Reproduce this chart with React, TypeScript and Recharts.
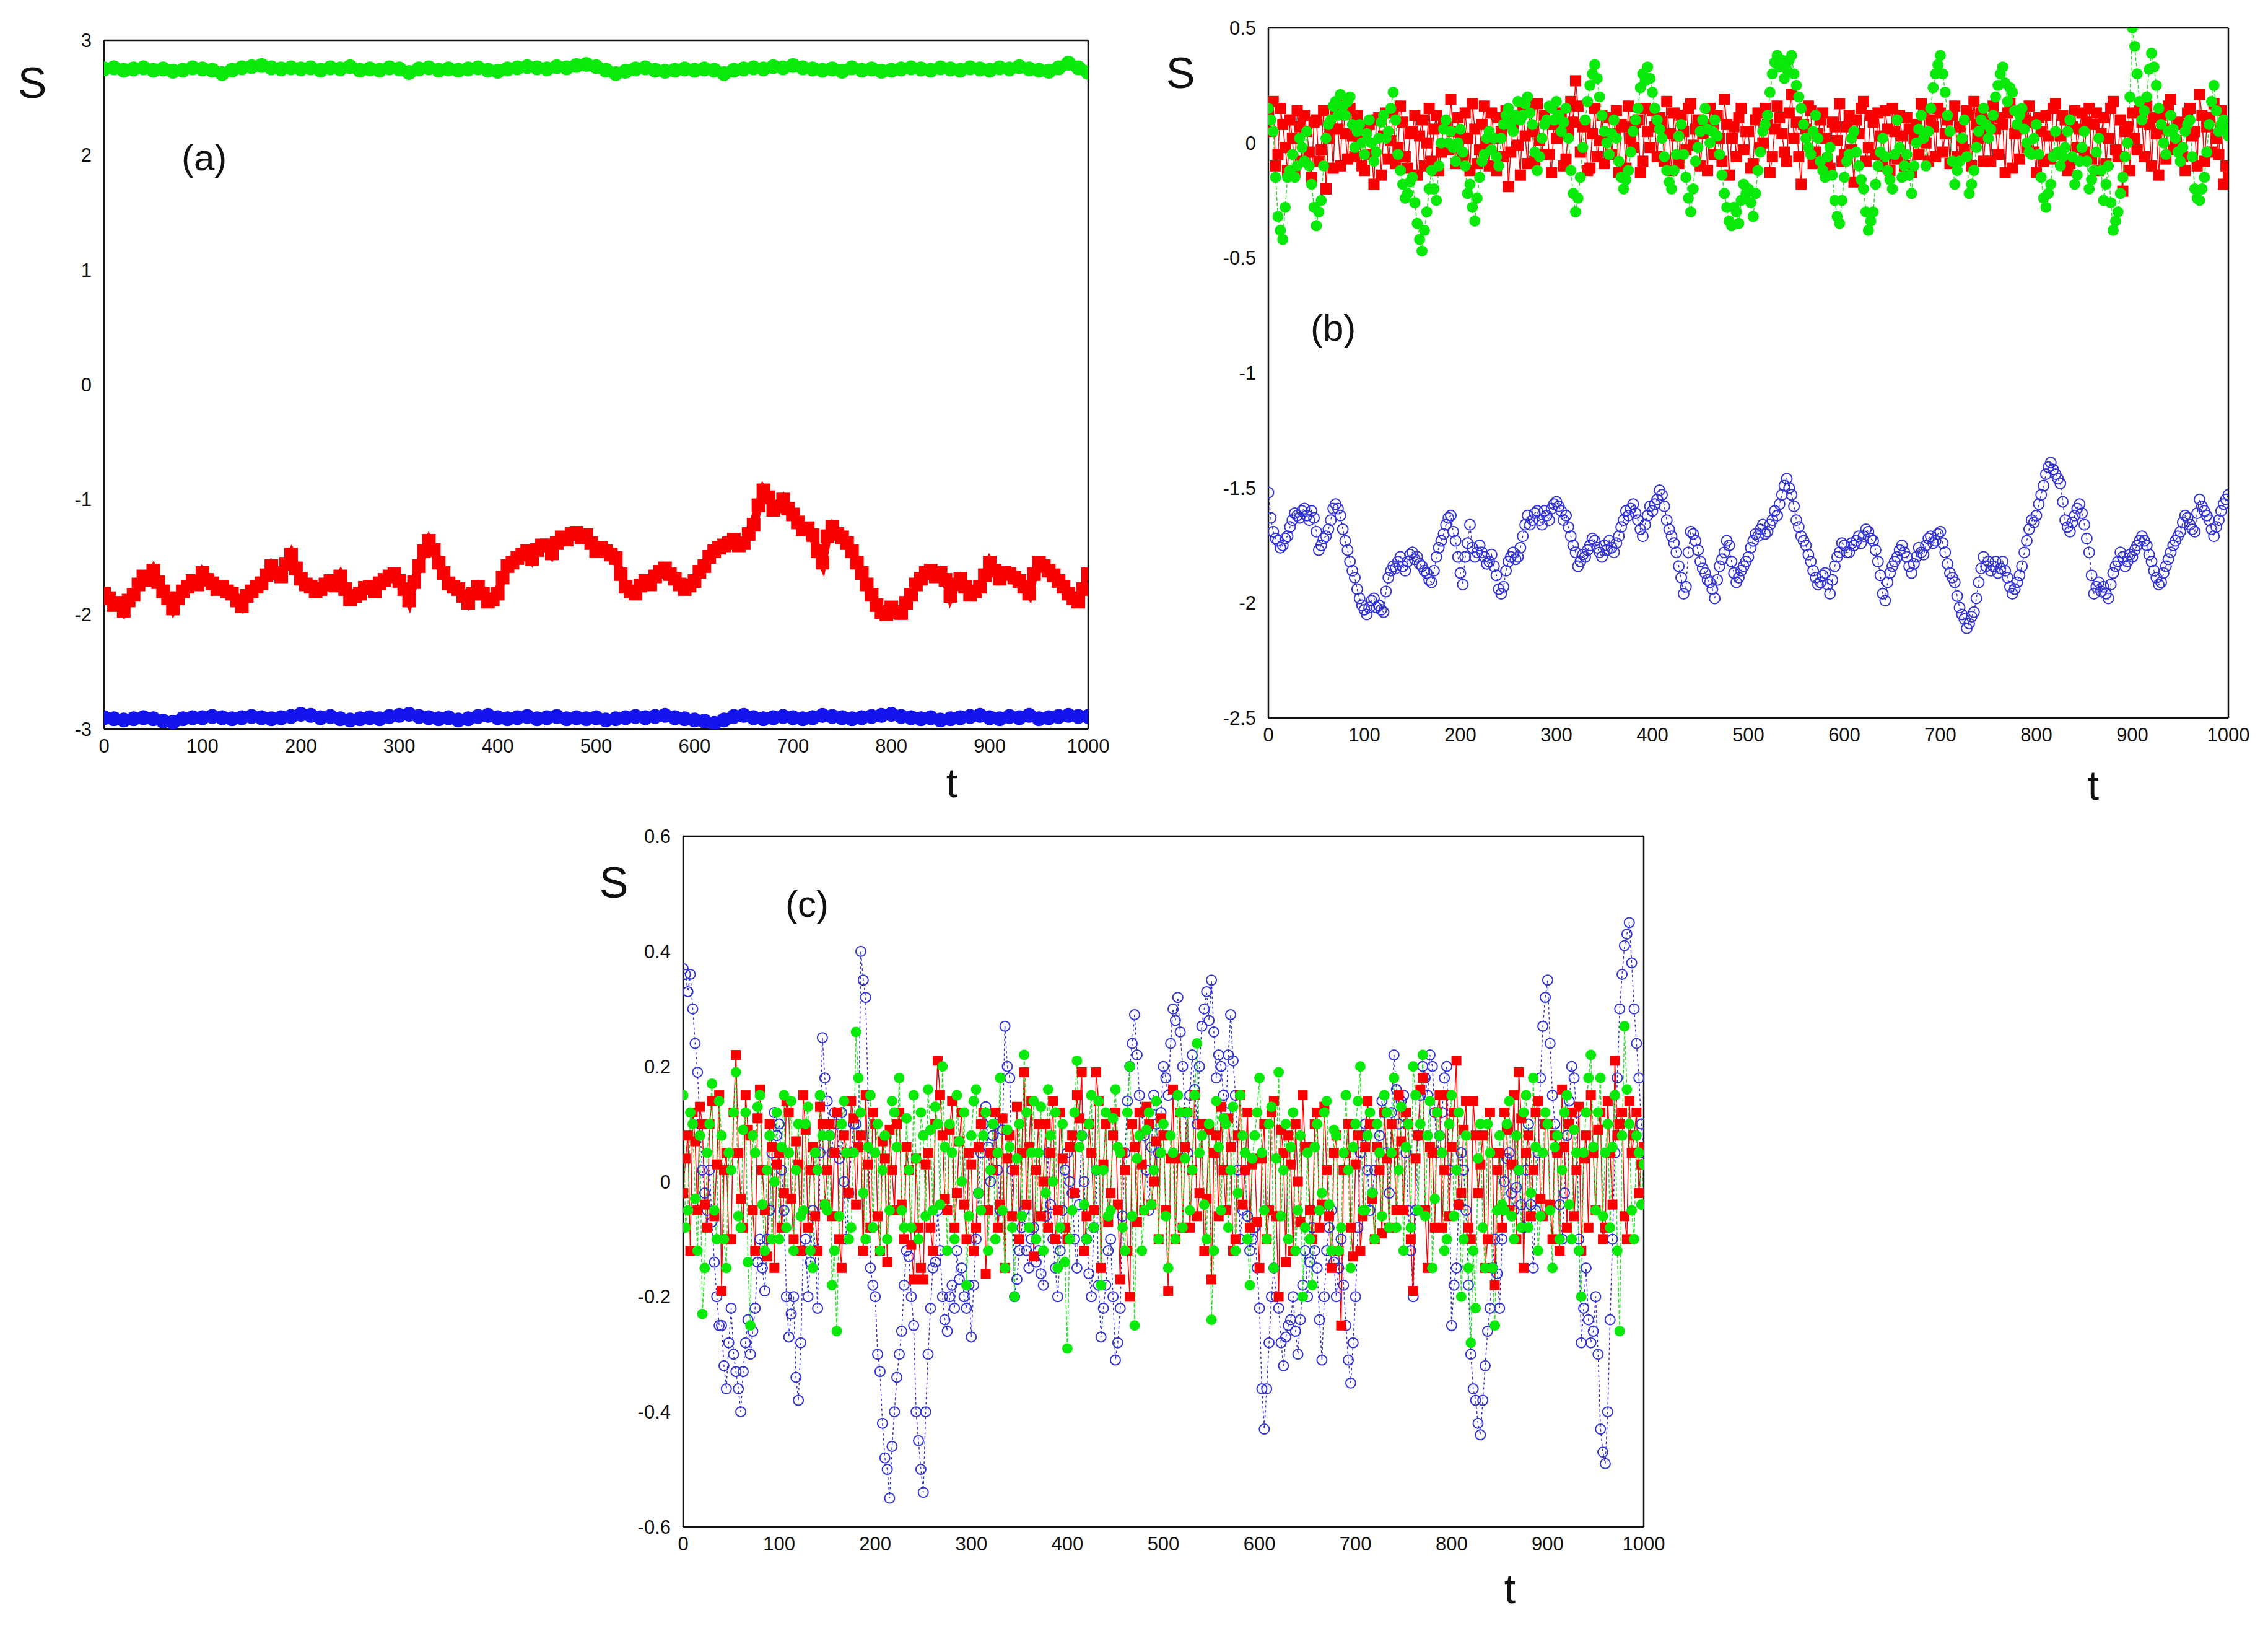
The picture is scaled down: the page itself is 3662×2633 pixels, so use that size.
import React from 'react';
import { LineChart, Line, XAxis, YAxis } from 'recharts';

// sampling grids (t)
const T5 = Array.from({ length: 201 }, (_, i) => i * 5);
const T10 = Array.from({ length: 101 }, (_, i) => i * 10);
const T5MID = Array.from({ length: 200 }, (_, i) => i * 5 + 2.5);
const X_TICKS = [0, 100, 200, 300, 400, 500, 600, 700, 800, 900, 1000];

// ---- panel (a) ----
const A_Y_TICKS = [-3, -2, -1, 0, 1, 2, 3];
const aGreen = [
  2.75, 2.76, 2.74, 2.75, 2.76, 2.74, 2.75, 2.73, 2.74, 2.76,
  2.75, 2.74, 2.71, 2.74, 2.76, 2.77, 2.78, 2.76, 2.75, 2.76,
  2.75, 2.76, 2.74, 2.76, 2.75, 2.77, 2.74, 2.75, 2.74, 2.76,
  2.75, 2.72, 2.75, 2.76, 2.74, 2.75, 2.74, 2.75, 2.76, 2.74,
  2.73, 2.75, 2.76, 2.77, 2.76, 2.75, 2.77, 2.76, 2.78, 2.79,
  2.77, 2.74, 2.71, 2.73, 2.75, 2.76, 2.74, 2.73, 2.74, 2.75,
  2.74, 2.75, 2.74, 2.71, 2.74, 2.75, 2.76, 2.75, 2.77, 2.76,
  2.78, 2.76, 2.75, 2.74, 2.75, 2.73, 2.76, 2.74, 2.75, 2.73,
  2.74, 2.75, 2.76, 2.75, 2.74, 2.76, 2.75, 2.74, 2.76, 2.75,
  2.74, 2.76, 2.75, 2.77, 2.75, 2.74, 2.73, 2.76, 2.8, 2.76,
  2.72,
];
const aBlue = [
  -2.9, -2.91, -2.92, -2.91, -2.9, -2.91, -2.93, -2.94, -2.91, -2.9,
  -2.9, -2.89, -2.9, -2.91, -2.9, -2.89, -2.9, -2.91, -2.9, -2.89,
  -2.87, -2.88, -2.9, -2.89, -2.91, -2.92, -2.91, -2.9, -2.91, -2.89,
  -2.88, -2.87, -2.89, -2.9, -2.91, -2.9, -2.92, -2.91, -2.89, -2.88,
  -2.9, -2.91, -2.9, -2.89, -2.91, -2.9, -2.89, -2.91, -2.9, -2.91,
  -2.9, -2.92, -2.91, -2.9, -2.89, -2.9, -2.89, -2.88, -2.9, -2.91,
  -2.92, -2.93, -2.95, -2.92, -2.89, -2.88, -2.9, -2.91, -2.9, -2.89,
  -2.9, -2.91, -2.9, -2.88, -2.89, -2.9, -2.91, -2.9, -2.89, -2.88,
  -2.87, -2.89, -2.9, -2.91, -2.9, -2.92, -2.91, -2.9, -2.89, -2.88,
  -2.9, -2.91, -2.89, -2.9, -2.88, -2.91, -2.9, -2.89, -2.88, -2.89,
  -2.89,
];
const aRed = [
  -1.82, -1.86, -1.92, -1.9, -1.97, -1.88, -1.83, -1.74, -1.67, -1.7,
  -1.62, -1.72, -1.8, -1.86, -1.95, -1.86, -1.8, -1.76, -1.71, -1.74,
  -1.64, -1.7, -1.73, -1.78, -1.76, -1.8, -1.82, -1.88, -1.93, -1.84,
  -1.8, -1.76, -1.73, -1.66, -1.58, -1.64, -1.67, -1.56, -1.48, -1.6,
  -1.69, -1.74, -1.76, -1.8, -1.78, -1.74, -1.71, -1.75, -1.67, -1.78,
  -1.87, -1.84, -1.82, -1.77, -1.76, -1.8, -1.73, -1.7, -1.67, -1.65,
  -1.71, -1.78, -1.88, -1.72, -1.58, -1.45, -1.36, -1.44, -1.55, -1.64,
  -1.73, -1.76, -1.78, -1.84, -1.9, -1.82, -1.76, -1.82, -1.89, -1.87,
  -1.82, -1.68, -1.58, -1.55, -1.51, -1.48, -1.45, -1.52, -1.44, -1.4,
  -1.4, -1.47, -1.38, -1.33, -1.35, -1.3, -1.29, -1.33, -1.31, -1.38,
  -1.45, -1.42, -1.45, -1.48, -1.51, -1.65, -1.76, -1.8, -1.82, -1.75,
  -1.71, -1.74, -1.67, -1.63, -1.6, -1.65, -1.69, -1.74, -1.78, -1.75,
  -1.71, -1.63, -1.58, -1.5, -1.45, -1.42, -1.4, -1.38, -1.35, -1.4,
  -1.38, -1.3, -1.22, -1.05, -0.92, -0.98, -1.09, -1.06, -1.0, -1.08,
  -1.13, -1.2, -1.26, -1.25, -1.31, -1.45, -1.55, -1.32, -1.24, -1.3,
  -1.33, -1.38, -1.45, -1.55, -1.64, -1.74, -1.83, -1.92, -1.98, -2.0,
  -1.94, -1.98, -1.99, -1.9, -1.83, -1.74, -1.69, -1.64, -1.62, -1.67,
  -1.64, -1.7, -1.84, -1.74, -1.69, -1.76, -1.83, -1.8, -1.76, -1.66,
  -1.55, -1.62, -1.69, -1.64, -1.65, -1.68, -1.71, -1.76, -1.82, -1.65,
  -1.55, -1.58, -1.62, -1.66, -1.71, -1.76, -1.82, -1.86, -1.89, -1.78,
  -1.65,
];

// ---- panel (b) ----  (values at t = 0,5,...,1000 and at t = 2.5,7.5,...,997.5)
const B_Y_TICKS = [-2.5, -2, -1.5, -1, -0.5, 0, 0.5];
const bRed = [
  0.12, 0.18, -0.05, 0.08, -0.12, 0.02, 0.14, -0.08, 0.05, -0.15,
  0.1, -0.03, -0.2, 0.06, 0.13, -0.1, 0.04, 0.15, -0.06, 0.01,
  -0.12, 0.08, -0.18, 0.11, 0.03, -0.07, 0.14, -0.02, 0.09, -0.11,
  0.05, -0.14, 0.1, 0.0, -0.08, 0.12, -0.04, 0.07, 0.19, -0.09,
  0.03, 0.13, -0.12, 0.06, -0.03, 0.16, -0.1, 0.02, 0.11, -0.06,
  -0.19, 0.08, -0.01, 0.14, -0.09, 0.05, 0.17, -0.05, 0.09, -0.13,
  0.02, 0.12, -0.07, 0.18, 0.27, -0.04, 0.08, -0.11, 0.15, 0.01,
  -0.09, 0.11, 0.04, -0.13, 0.07, 0.16, -0.02, 0.1, -0.08, 0.05,
  0.14, -0.06, 0.09, 0.18, -0.12, 0.03, 0.12, -0.03, 0.17, 0.06,
  -0.1, 0.08, 0.15, -0.05, 0.02, 0.19, -0.14, 0.07, 0.11, -0.03,
  0.05, -0.09, 0.13, 0.0, 0.08, -0.06, 0.16, 0.04, -0.08, 0.21,
  0.09, -0.18, 0.06, 0.14, -0.04, 0.1, 0.02, -0.11, 0.07, 0.17,
  -0.05, 0.12, -0.17, 0.04, 0.18, -0.02, 0.09, 0.13, -0.1, 0.06,
  0.15, -0.07, 0.03, 0.11, -0.13, 0.08, 0.17, 0.0, 0.1, -0.06,
  0.13, 0.04, -0.09, 0.16, 0.07, -0.03, 0.12, 0.18, 0.02, -0.08,
  0.1, 0.16, -0.05, 0.08, 0.13, -0.11, 0.06, 0.14, -0.02, 0.09,
  -0.13, 0.05, 0.12, -0.07, 0.17, 0.03, 0.1, -0.09, 0.14, 0.06,
  -0.04, 0.15, 0.08, -0.12, 0.11, 0.02, 0.18, -0.06, -0.21, 0.07,
  0.13, -0.03, 0.09, 0.16, -0.1, 0.04, 0.12, -0.07, 0.19, 0.01,
  0.08, -0.12, 0.15, 0.05, 0.21, -0.08, 0.11, 0.17, -0.05, -0.18,
  -0.15,
];
const bRedMid = [
  0.05, -0.1, 0.15, -0.02, 0.1, -0.13, 0.07, 0.12, -0.04, 0.09,
  -0.08, 0.14, 0.02, -0.11, 0.06, 0.17, -0.07, 0.03, 0.12, -0.1,
  0.07, -0.05, 0.1, -0.14, 0.13, 0.01, -0.09, 0.16, -0.06, 0.04,
  0.12, 0.03, -0.1, 0.15, 0.06, -0.12, 0.09, -0.03, 0.05, 0.11,
  -0.07, 0.02, 0.17, -0.09, 0.08, 0.0, 0.13, -0.12, 0.05, 0.14,
  -0.04, 0.11, -0.14, 0.03, 0.16, -0.08, 0.01, 0.12, -0.05, 0.08,
  0.13, -0.1, 0.05, 0.09, 0.16, 0.07, -0.12, 0.04, -0.06, 0.12,
  0.03, -0.05, 0.14, 0.08, -0.11, 0.02, 0.09, -0.13, 0.15, -0.02,
  0.07, 0.11, -0.08, 0.04, 0.13, -0.09, 0.05, 0.15, -0.01, 0.1,
  0.04, -0.12, 0.06, 0.12, -0.08, 0.08, 0.02, -0.06, 0.15, 0.05,
  -0.11, 0.1, -0.02, 0.15, -0.13, 0.06, 0.11, -0.04, 0.13, 0.02,
  -0.06, 0.08, 0.16, -0.09, 0.04, 0.13, -0.07, 0.09, 0.01, -0.08,
  0.07, -0.03, 0.1, 0.15, -0.08, 0.12, -0.05, 0.03, 0.14, -0.12,
  0.05, 0.12, -0.1, 0.06, 0.02, -0.05, 0.14, -0.08, 0.07, 0.15,
  -0.04, 0.1, 0.12, -0.06, 0.01, 0.14, -0.1, 0.08, 0.13, 0.05,
  -0.08, 0.06, 0.11, -0.13, 0.17, 0.04, -0.07, 0.1, 0.16, -0.04,
  0.11, -0.08, 0.03, 0.15, -0.05, 0.12, -0.12, 0.07, -0.02, 0.13,
  0.09, -0.07, 0.13, 0.04, -0.09, 0.15, -0.03, 0.1, 0.05, -0.12,
  0.02, 0.14, -0.06, 0.08, 0.11, -0.14, 0.06, 0.16, -0.03, 0.09,
  -0.06, 0.13, 0.03, -0.1, 0.12, 0.07, -0.04, 0.02, 0.14, -0.1,
];
const bGreen = [
  0.15, 0.05, -0.32, -0.42, -0.15, -0.05, -0.1, -0.02, 0.05, -0.18,
  -0.36, -0.25, 0.02, 0.1, 0.18, 0.21, 0.12, 0.2, -0.02, 0.08,
  -0.05, 0.1, -0.08, 0.02, 0.12, 0.05, 0.22, -0.05, -0.18, -0.22,
  -0.15, -0.35, -0.47, -0.3, -0.12, -0.25, 0.0, 0.1, 0.05, -0.08,
  0.06, -0.1, -0.18, -0.34, -0.15, -0.05, 0.05, 0.02, -0.1, 0.08,
  0.15, 0.05, 0.18, 0.12, 0.2, 0.08, -0.12, 0.02, 0.1, 0.15,
  0.18, 0.05, 0.15, -0.12, -0.3, -0.15, 0.1, 0.25, 0.34, 0.2,
  0.05, -0.05, 0.1, -0.08, -0.2, -0.12, 0.05, 0.15, 0.3, 0.33,
  0.22, 0.1, 0.02, -0.12, -0.2, -0.05, 0.08, -0.15, -0.3, -0.08,
  0.05, 0.15, 0.0, 0.1, -0.05, -0.22, -0.34, -0.28, -0.35, -0.18,
  -0.2, -0.32, -0.12, 0.05, 0.12, 0.3, 0.38, 0.36, 0.32, 0.38,
  0.25, 0.15, 0.02, -0.05, 0.12, -0.08, -0.15, -0.02, -0.25, -0.35,
  -0.15, -0.05, 0.05, -0.1, -0.2, -0.38, -0.3, -0.1, 0.02, -0.12,
  -0.2, 0.1, -0.15, -0.05, -0.22, 0.0, 0.12, -0.1, 0.15, 0.3,
  0.38, 0.22, 0.05, -0.18, -0.08, 0.1, -0.22, -0.12, 0.05, 0.15,
  0.02, 0.12, 0.25, 0.33, 0.18, 0.22, 0.08, 0.15, 0.0, -0.05,
  0.08, -0.15, -0.28, -0.18, 0.05, -0.1, -0.02, 0.1, -0.18, -0.08,
  0.05, -0.2, -0.12, 0.02, -0.25, -0.1, -0.38, -0.3, -0.15, 0.0,
  0.5, 0.3, 0.1, 0.2, 0.39, 0.25, 0.08, -0.05, 0.12, 0.02,
  -0.08, 0.05, 0.1, -0.2, -0.25, -0.15, 0.08, 0.25, 0.05, 0.1,
  0.03,
];
const bGreenMid = [
  0.1, -0.15, -0.38, -0.28, -0.12, -0.15, 0.02, -0.08, -0.1, -0.28,
  -0.3, -0.1, 0.08, 0.16, 0.12, 0.16, 0.18, 0.08, 0.05, 0.0,
  0.04, 0.0, -0.04, 0.09, 0.02, 0.15, 0.1, -0.12, -0.24, -0.17,
  -0.26, -0.42, -0.38, -0.2, -0.2, -0.1, 0.06, 0.0, -0.02, 0.0,
  -0.04, -0.22, -0.28, -0.24, -0.08, 0.02, -0.03, -0.06, 0.02, 0.12,
  0.08, 0.12, 0.1, 0.17, 0.13, -0.04, -0.06, 0.08, 0.16, 0.1,
  0.12, 0.09, 0.02, -0.22, -0.24, -0.02, 0.18, 0.3, 0.28, 0.12,
  0.0, 0.04, 0.02, -0.15, -0.16, -0.04, 0.1, 0.24, 0.27, 0.28,
  0.15, 0.06, -0.06, -0.17, -0.12, 0.03, -0.05, -0.24, -0.2, -0.02,
  0.1, 0.06, 0.05, 0.03, -0.14, -0.28, -0.36, -0.3, -0.25, -0.22,
  -0.26, -0.22, -0.04, 0.08, 0.22, 0.35, 0.33, 0.28, 0.36, 0.3,
  0.2, 0.08, -0.02, 0.05, 0.02, -0.12, -0.06, -0.14, -0.32, -0.25,
  -0.08, 0.02, -0.04, -0.16, -0.3, -0.34, -0.18, -0.04, -0.06, -0.16,
  -0.05, -0.02, -0.1, -0.14, -0.1, 0.06, 0.02, 0.05, 0.24, 0.34,
  0.3, 0.12, -0.08, -0.12, 0.02, -0.06, -0.18, -0.02, 0.1, 0.08,
  0.06, 0.2, 0.3, 0.26, 0.24, 0.14, 0.12, 0.06, -0.04, 0.02,
  -0.05, -0.24, -0.22, -0.06, -0.04, -0.06, 0.05, -0.06, -0.14, -0.02,
  -0.08, -0.16, -0.04, -0.12, -0.18, -0.26, -0.34, -0.22, -0.06, 0.2,
  0.42, 0.18, 0.14, 0.32, 0.33, 0.15, 0.0, 0.05, 0.06, -0.04,
  -0.02, 0.08, -0.06, -0.24, -0.2, -0.04, 0.18, 0.14, 0.08, 0.06,
];
const bBlue = [
  -1.52, -1.69, -1.73, -1.75, -1.71, -1.64, -1.62, -1.6, -1.62, -1.6,
  -1.69, -1.75, -1.71, -1.64, -1.57, -1.62, -1.73, -1.82, -1.89, -1.98,
  -2.03, -2.02, -1.98, -2.01, -2.04, -1.89, -1.84, -1.82, -1.84, -1.82,
  -1.78, -1.8, -1.84, -1.87, -1.91, -1.8, -1.73, -1.66, -1.62, -1.73,
  -1.87, -1.8, -1.66, -1.8, -1.75, -1.8, -1.82, -1.84, -1.94, -1.93,
  -1.82, -1.78, -1.8, -1.71, -1.62, -1.64, -1.6, -1.66, -1.62, -1.59,
  -1.56, -1.6, -1.62, -1.71, -1.78, -1.82, -1.8, -1.75, -1.73, -1.78,
  -1.75, -1.73, -1.78, -1.71, -1.64, -1.62, -1.57, -1.64, -1.71, -1.62,
  -1.6, -1.55, -1.53, -1.64, -1.71, -1.78, -1.89, -1.93, -1.69, -1.73,
  -1.82, -1.87, -1.91, -1.98, -1.84, -1.78, -1.75, -1.87, -1.89, -1.84,
  -1.8, -1.73, -1.71, -1.66, -1.69, -1.64, -1.62, -1.53, -1.46, -1.53,
  -1.64, -1.71, -1.75, -1.82, -1.89, -1.91, -1.87, -1.96, -1.84, -1.78,
  -1.75, -1.78, -1.75, -1.71, -1.71, -1.69, -1.73, -1.82, -1.96, -1.91,
  -1.84, -1.8, -1.75, -1.8, -1.87, -1.8, -1.78, -1.75, -1.71, -1.73,
  -1.69, -1.78, -1.87, -1.91, -2.02, -2.07, -2.09, -2.04, -1.91, -1.8,
  -1.82, -1.84, -1.87, -1.82, -1.89, -1.96, -1.91, -1.84, -1.73, -1.64,
  -1.62, -1.53, -1.44, -1.39, -1.44, -1.48, -1.64, -1.69, -1.62, -1.57,
  -1.66, -1.78, -1.96, -1.91, -1.93, -1.98, -1.87, -1.82, -1.8, -1.82,
  -1.8, -1.75, -1.71, -1.75, -1.82, -1.89, -1.91, -1.84, -1.78, -1.73,
  -1.69, -1.62, -1.66, -1.69, -1.55, -1.6, -1.64, -1.71, -1.64, -1.57,
  -1.53,
];
const bBlueMid = [
  -1.63, -1.72, -1.76, -1.72, -1.67, -1.61, -1.63, -1.59, -1.64, -1.63,
  -1.77, -1.72, -1.68, -1.59, -1.59, -1.68, -1.77, -1.86, -1.94, -2.01,
  -2.05, -1.99, -2.02, -2.03, -1.95, -1.86, -1.85, -1.8, -1.86, -1.79,
  -1.81, -1.83, -1.86, -1.9, -1.86, -1.76, -1.7, -1.63, -1.69, -1.8,
  -1.92, -1.74, -1.76, -1.78, -1.78, -1.83, -1.79, -1.88, -1.96, -1.86,
  -1.8, -1.81, -1.76, -1.66, -1.66, -1.61, -1.64, -1.6, -1.64, -1.57,
  -1.58, -1.64, -1.67, -1.75, -1.84, -1.79, -1.77, -1.72, -1.76, -1.8,
  -1.77, -1.76, -1.74, -1.67, -1.6, -1.59, -1.61, -1.68, -1.66, -1.58,
  -1.57, -1.51, -1.58, -1.68, -1.74, -1.84, -1.96, -1.78, -1.7, -1.77,
  -1.85, -1.9, -1.94, -1.9, -1.81, -1.73, -1.82, -1.91, -1.86, -1.82,
  -1.76, -1.7, -1.68, -1.7, -1.66, -1.6, -1.57, -1.49, -1.5, -1.58,
  -1.67, -1.73, -1.79, -1.86, -1.92, -1.88, -1.92, -1.9, -1.8, -1.74,
  -1.78, -1.74, -1.73, -1.74, -1.68, -1.72, -1.77, -1.88, -1.99, -1.87,
  -1.82, -1.77, -1.78, -1.84, -1.83, -1.76, -1.79, -1.72, -1.74, -1.7,
  -1.74, -1.83, -1.89, -1.97, -2.05, -2.11, -2.06, -1.98, -1.85, -1.84,
  -1.86, -1.82, -1.85, -1.86, -1.93, -1.94, -1.88, -1.78, -1.68, -1.65,
  -1.57, -1.49, -1.41, -1.42, -1.46, -1.56, -1.67, -1.65, -1.59, -1.61,
  -1.72, -1.88, -1.93, -1.95, -1.96, -1.92, -1.84, -1.78, -1.84, -1.79,
  -1.77, -1.73, -1.73, -1.79, -1.86, -1.92, -1.87, -1.81, -1.75, -1.71,
  -1.65, -1.63, -1.68, -1.61, -1.58, -1.62, -1.68, -1.67, -1.6, -1.55,
];

// ---- panel (c) ----
const C_Y_TICKS = [-0.6, -0.4, -0.2, 0, 0.2, 0.4, 0.6];
const cRed = [
  -0.02, 0.08, 0.12, -0.05, 0.1, -0.08, 0.14, 0.03, -0.19, 0.05,
  -0.1, 0.22, -0.03, 0.15, 0.08, -0.12, 0.16, -0.05, 0.1, -0.15,
  0.05, -0.02, 0.12, -0.1, 0.03, 0.15, -0.08, 0.06, -0.12, 0.1,
  0.02, -0.06, 0.12, -0.15, 0.05, 0.14, -0.04, 0.08, 0.15, -0.08,
  0.1, -0.12, 0.04, 0.09, -0.05, 0.12, -0.1, 0.02, -0.17, -0.08,
  -0.17, 0.05, -0.12, 0.21, 0.08, -0.05, 0.14, -0.02, 0.12, -0.1,
  0.03, -0.08, 0.1, -0.16, 0.05, 0.12, -0.04, -0.15, 0.08, 0.02,
  -0.1, 0.19, 0.06, -0.13, 0.1, 0.0, -0.08, 0.14, -0.05, 0.04,
  -0.1, 0.08, 0.15, 0.19, -0.06, 0.05, 0.19, -0.15, 0.1, -0.02,
  0.12, -0.17, 0.02, -0.2, 0.06, 0.12, -0.05, 0.1, 0.0, -0.1,
  0.08, -0.19, 0.16, 0.04, -0.08, 0.12, 0.02, -0.06, 0.1, -0.03,
  -0.17, 0.08, 0.13, -0.05, 0.06, -0.1, 0.15, 0.02, -0.08, 0.04,
  -0.15, 0.1, -0.05, 0.14, -0.2, 0.05, 0.08, -0.12, 0.0, 0.15,
  0.06, -0.1, 0.12, -0.04, 0.02, -0.15, 0.08, -0.25, 0.05, -0.08,
  0.03, -0.12, 0.06, 0.1, -0.1, 0.02, 0.12, -0.08, 0.05, 0.15,
  -0.05, 0.1, -0.19, 0.08, 0.18, -0.15, 0.05, 0.12, -0.08, 0.15,
  0.06, 0.21, -0.02, 0.14, -0.1, 0.08, 0.03, -0.15, 0.12, -0.18,
  0.05, 0.12, -0.05, 0.15, 0.19, -0.15, 0.08, 0.02, 0.14, -0.06,
  0.1, -0.1, 0.05, 0.16, -0.08, 0.12, 0.02, -0.12, 0.08, 0.15,
  -0.05, 0.12, -0.08, 0.05, 0.21, 0.1, -0.06, 0.14, 0.08, -0.02,
  0.06,
];
const cRedMid = [
  0.04, -0.12, 0.07, 0.13, -0.04, 0.1, -0.06, 0.15, 0.02, -0.1,
  0.12, 0.05, -0.08, 0.09, -0.05, 0.11, 0.02, -0.13, 0.06, 0.03,
  -0.08, 0.14, -0.03, 0.07, -0.12, 0.09, 0.02, -0.06, 0.13, -0.04,
  0.1, 0.05, -0.1, 0.08, -0.02, 0.11, 0.06, -0.12, 0.03, 0.12,
  -0.06, 0.07, -0.14, 0.02, 0.1, -0.04, 0.06, -0.11, 0.04, -0.15,
  0.03, -0.08, 0.1, 0.15, -0.03, 0.09, -0.08, 0.07, -0.04, 0.05,
  -0.12, 0.06, 0.12, -0.05, 0.02, -0.08, 0.11, 0.04, -0.06, 0.13,
  0.05, -0.04, 0.14, 0.02, -0.06, 0.1, 0.05, -0.1, 0.12, -0.08,
  0.06, -0.02, 0.11, -0.12, 0.1, -0.05, 0.14, 0.03, -0.07, 0.08,
  -0.04, 0.05, -0.12, 0.1, -0.07, 0.03, 0.13, -0.04, 0.07, 0.11,
  -0.05, 0.04, -0.1, 0.12, 0.06, -0.08, 0.15, -0.02, -0.12, 0.09,
  0.05, -0.06, 0.02, 0.11, -0.12, 0.08, -0.04, 0.12, 0.03, -0.07,
  0.04, -0.1, 0.12, -0.06, 0.09, -0.14, 0.03, 0.1, -0.07, 0.06,
  -0.05, 0.1, -0.08, 0.13, -0.06, 0.05, -0.12, 0.02, 0.1, -0.13,
  0.08, -0.06, 0.14, -0.03, 0.06, -0.09, 0.04, 0.1, -0.05, 0.07,
  0.12, -0.1, 0.04, 0.16, -0.05, 0.06, -0.08, 0.15, 0.02, -0.06,
  0.12, -0.04, 0.09, -0.08, 0.14, -0.02, 0.08, -0.1, 0.05, 0.02,
  -0.08, 0.09, 0.03, -0.1, 0.11, 0.05, -0.06, 0.12, -0.03, 0.1,
  -0.04, 0.08, -0.12, 0.06, 0.1, -0.06, 0.13, 0.04, -0.08, 0.05,
  0.09, -0.1, 0.14, -0.04, 0.08, 0.12, -0.1, 0.05, 0.12, 0.03,
];
const cGreen = [
  0.15, -0.05, 0.1, -0.12, -0.23, 0.05, 0.17, -0.1, 0.08, -0.15,
  0.02, 0.19, -0.08, 0.12, -0.25, 0.05, 0.15, -0.12, 0.08, 0.0,
  -0.1, 0.15, 0.05, -0.12, 0.1, -0.05, 0.13, -0.15, 0.02, 0.08,
  -0.05, -0.18, -0.26, 0.1, 0.05, -0.08, 0.26, 0.12, -0.1, 0.15,
  0.05, -0.12, 0.08, -0.05, 0.12, 0.18, -0.08, 0.02, 0.15, -0.1,
  0.08, 0.16, -0.05, 0.1, 0.2, -0.12, 0.05, 0.15, 0.0, -0.18,
  0.08, 0.16, -0.05, 0.12, 0.02, -0.1, 0.18, -0.15, 0.06, -0.2,
  0.1, 0.22, -0.08, 0.14, 0.05, -0.12, 0.16, 0.0, -0.15, 0.1,
  -0.29, -0.05, 0.21, 0.08, -0.1, 0.15, 0.02, -0.18, 0.12, -0.05,
  0.16, 0.05, -0.12, 0.2, -0.25, 0.08, -0.05, 0.12, 0.02, -0.1,
  0.1, -0.15, 0.05, 0.15, -0.08, 0.12, 0.02, 0.24, 0.08, -0.1,
  -0.24, 0.14, -0.05, 0.1, 0.02, -0.12, 0.15, 0.05, -0.18, 0.08,
  0.18, -0.05, 0.1, -0.15, 0.19, 0.02, -0.1, 0.12, -0.05, -0.2,
  0.05, -0.18, 0.1, -0.02, 0.14, -0.12, 0.08, -0.08, 0.15, -0.15,
  0.1, 0.2, -0.05, 0.12, -0.1, 0.05, 0.15, -0.08, 0.18, 0.02,
  -0.12, 0.1, 0.2, -0.05, 0.22, 0.08, -0.15, 0.12, 0.05, -0.1,
  0.15, 0.02, -0.2, 0.08, -0.28, -0.22, 0.1, -0.15, 0.05, -0.25,
  0.08, -0.05, 0.14, -0.1, 0.02, 0.12, -0.08, 0.18, -0.12, 0.05,
  0.1, -0.15, 0.08, 0.02, 0.15, -0.1, 0.05, -0.2, 0.12, 0.22,
  -0.05, 0.18, 0.05, -0.08, 0.15, -0.26, 0.27, 0.1, -0.1, 0.05,
  0.03,
];
const cGreenMid = [
  -0.08, 0.12, -0.03, 0.08, -0.15, 0.1, -0.05, 0.14, -0.1, 0.05,
  0.12, -0.06, 0.09, -0.14, 0.08, 0.13, -0.04, 0.02, -0.1, 0.12,
  0.06, -0.08, 0.14, 0.02, -0.06, 0.1, -0.12, 0.05, 0.15, -0.04,
  0.08, -0.12, -0.06, 0.14, -0.1, 0.05, 0.18, -0.02, 0.06, -0.08,
  0.1, 0.02, -0.1, 0.14, 0.06, -0.05, 0.11, -0.08, 0.04, 0.12,
  -0.06, 0.09, 0.13, -0.04, 0.06, 0.1, -0.1, 0.07, 0.12, -0.06,
  0.14, -0.02, 0.08, -0.12, 0.1, 0.05, -0.05, 0.09, -0.08, 0.04,
  -0.06, 0.12, 0.05, -0.1, 0.13, -0.02, 0.08, 0.12, -0.08, -0.14,
  -0.1, 0.12, 0.06, -0.04, 0.1, -0.08, 0.14, 0.02, -0.06, 0.11,
  0.06, -0.08, 0.12, -0.06, 0.04, -0.12, 0.09, -0.04, 0.14, 0.05,
  -0.06, 0.08, -0.1, 0.12, 0.04, -0.05, 0.15, 0.05, -0.04, 0.1,
  -0.12, 0.06, 0.11, -0.08, 0.13, -0.02, 0.08, -0.1, 0.04, 0.12,
  0.05, -0.1, 0.13, 0.04, -0.06, 0.1, 0.06, -0.12, 0.08, -0.08,
  -0.1, 0.06, -0.05, 0.12, -0.04, 0.09, -0.12, 0.05, 0.02, 0.06,
  0.14, -0.05, 0.08, -0.02, 0.1, -0.06, 0.12, 0.05, -0.08, 0.13,
  0.06, -0.08, 0.15, 0.1, -0.06, 0.14, -0.03, 0.08, -0.12, 0.1,
  -0.06, 0.12, -0.1, -0.15, -0.12, 0.04, -0.08, 0.1, -0.15, -0.05,
  -0.04, 0.1, -0.06, 0.08, -0.08, 0.15, -0.02, 0.06, -0.06, 0.12,
  -0.05, 0.06, -0.1, 0.12, -0.04, 0.09, -0.12, 0.05, 0.18, 0.06,
  0.12, -0.06, 0.1, 0.06, -0.12, 0.08, 0.16, -0.05, 0.08, -0.04,
];
const cBlue = [
  0.37, 0.33, 0.3, 0.19, 0.02, -0.05, -0.07, -0.2, -0.25, -0.36,
  -0.22, -0.33, -0.4, -0.28, -0.3, -0.22, -0.1, -0.19, -0.05, 0.12,
  0.1, -0.05, -0.27, -0.2, -0.38, -0.12, -0.2, -0.05, -0.22, 0.25,
  0.14, 0.05, 0.1, 0.12, -0.1, 0.05, 0.1, 0.4, 0.32, -0.15,
  -0.2, -0.33, -0.48, -0.55, -0.4, -0.3, -0.18, -0.13, -0.25, -0.45,
  -0.54, -0.3, -0.15, -0.05, -0.2, -0.26, -0.18, -0.12, -0.15, -0.22,
  -0.27, -0.1, 0.05, 0.13, 0.0, 0.1, -0.05, 0.27, 0.18, -0.2,
  -0.12, -0.05, -0.15, -0.08, -0.12, -0.18, 0.05, -0.1, -0.2, -0.05,
  0.05, -0.02, -0.15, 0.08, -0.1, -0.2, 0.02, -0.27, -0.18, -0.1,
  -0.31, -0.22, 0.05, 0.2, 0.29, 0.15, 0.08, -0.05, 0.15, 0.05,
  0.2, 0.15, 0.3, 0.32, 0.2, 0.05, 0.22, 0.1, 0.27, 0.33,
  0.35, 0.18, 0.2, 0.12, 0.29, 0.15, -0.1, 0.02, -0.12, -0.08,
  -0.22, -0.43, -0.28, -0.15, -0.22, -0.32, -0.25, -0.2, -0.3, -0.18,
  -0.2, -0.08, -0.15, -0.31, -0.12, -0.05, -0.2, -0.1, -0.25, -0.35,
  -0.2, 0.05, 0.1, -0.05, 0.02, 0.08, 0.12, -0.02, 0.22, 0.1,
  0.15, -0.05, -0.2, 0.08, 0.2, 0.15, 0.2, 0.05, 0.12, 0.2,
  -0.25, -0.15, 0.05, -0.05, -0.3, -0.38, -0.44, -0.32, -0.22, -0.1,
  -0.22, 0.0, 0.05, -0.05, 0.02, -0.08, 0.1, -0.15, 0.05, 0.27,
  0.35, 0.15, 0.05, -0.1, 0.08, 0.2, 0.12, -0.28, -0.15, -0.28,
  -0.2, -0.43, -0.49, -0.24, 0.05, 0.3, 0.41, 0.45, 0.3, 0.18,
  0.05,
];
const cBlueMid = [
  0.36, 0.36, 0.24, 0.1, -0.02, 0.02, -0.14, -0.25, -0.32, -0.28,
  -0.3, -0.36, -0.33, -0.24, -0.26, -0.14, -0.15, -0.1, 0.05, 0.08,
  0.02, -0.2, -0.23, -0.34, -0.28, -0.1, -0.14, -0.12, 0.05, 0.18,
  0.08, 0.12, 0.04, 0.0, -0.02, 0.1, 0.06, 0.35, 0.15, -0.18,
  -0.3, -0.42, -0.5, -0.46, -0.34, -0.26, -0.12, -0.2, -0.4, -0.5,
  -0.4, -0.22, -0.14, -0.12, -0.24, -0.2, -0.22, -0.17, -0.2, -0.18,
  -0.18, -0.02, 0.1, 0.06, 0.08, 0.02, 0.09, 0.2, 0.02, -0.17,
  -0.08, -0.12, -0.1, -0.14, -0.16, -0.06, -0.04, -0.15, -0.12, 0.02,
  0.0, -0.1, -0.04, 0.0, -0.16, -0.08, -0.18, -0.22, -0.12, -0.2,
  -0.28, -0.06, 0.14, 0.24, 0.22, 0.12, 0.02, 0.06, 0.1, 0.12,
  0.18, 0.24, 0.28, 0.26, 0.12, 0.15, 0.16, 0.2, 0.3, 0.28,
  0.26, 0.22, 0.15, 0.22, 0.21, 0.02, -0.05, -0.06, -0.1, -0.15,
  -0.36, -0.36, -0.2, -0.2, -0.28, -0.27, -0.24, -0.26, -0.24, -0.12,
  -0.14, -0.12, -0.24, -0.2, -0.08, -0.14, -0.15, -0.18, -0.31, -0.28,
  -0.08, 0.08, 0.02, -0.02, 0.06, 0.14, 0.05, 0.12, 0.16, 0.14,
  0.05, -0.12, -0.05, 0.15, 0.18, 0.22, 0.12, 0.08, 0.18, 0.02,
  -0.18, -0.04, 0.02, -0.18, -0.36, -0.42, -0.38, -0.26, -0.15, -0.16,
  -0.1, 0.04, -0.02, -0.01, -0.04, 0.02, -0.04, -0.05, 0.18, 0.32,
  0.24, 0.1, -0.04, -0.02, 0.14, 0.18, -0.1, -0.22, -0.24, -0.26,
  -0.3, -0.47, -0.4, -0.1, 0.18, 0.36, 0.43, 0.38, 0.24, 0.1,
];

const RED = '#fa0000';
const GREEN = '#0aea0a';
const BLUE_A = '#1414ee';
const BLUE_RING = '#3434d4';
const FONT = '"Liberation Sans", Arial, sans-serif';
const frame = { stroke: '#111', strokeWidth: 2.5 };
const tickFont = { fontSize: 31, fill: '#111', fontFamily: FONT };
const blank = () => '';

type Shape = 'square' | 'disc' | 'ring';
interface SeriesDef {
  key: string;
  data: { t: number; v: number }[];
  color: string;
  lineColor?: string;
  shape: Shape;
  size: number;
  lineWidth: number;
  dash?: string;
}

const toRows = (ts: number[], vs: number[]) =>
  vs.map((v, i) => ({ t: ts[i], v }));

// interleave the whole-step and half-step readings into one time-ordered series
const merge = (main: number[], mid: number[]) => {
  const rows: { t: number; v: number }[] = [];
  main.forEach((v, i) => {
    rows.push({ t: T5[i], v });
    if (i < mid.length) rows.push({ t: T5MID[i], v: mid[i] });
  });
  return rows;
};

const makeDot = (shape: Shape, size: number, color: string) => (p: any) => {
  const { cx, cy, index } = p;
  if (cx == null || cy == null) return <g key={`d-${index}`} />;
  if (shape === 'square') {
    return (
      <rect key={`d-${index}`} x={cx - size / 2} y={cy - size / 2} width={size} height={size} fill={color} />
    );
  }
  if (shape === 'disc') {
    return <circle key={`d-${index}`} cx={cx} cy={cy} r={size / 2} fill={color} />;
  }
  return <circle key={`d-${index}`} cx={cx} cy={cy} r={size / 2} fill="none" stroke={color} strokeWidth={2} />;
};

interface PanelProps {
  left: number;
  top: number;
  width: number;
  height: number;
  // plot box in page coordinates
  box: { x0: number; y0: number; x1: number; y1: number };
  yDomain: [number, number];
  yTicks: number[];
  series: SeriesDef[];
}

// axes are 1px thick (0 would hide them); 2 on left/bottom, 1 on top/right
const Panel: React.FC<PanelProps> = ({ left, top, width, height, box, yDomain, yTicks, series }) => {
  const margin = {
    left: box.x0 - left - 2,
    top: box.y0 - top - 1,
    right: width - (box.x1 - left) - 1,
    bottom: height - (box.y1 - top) - 2,
  };
  return (
    <div style={{ position: 'absolute', left, top, width, height }}>
      <LineChart width={width} height={height} margin={margin}>
        <XAxis
          dataKey="t"
          type="number"
          domain={[0, 1000]}
          ticks={X_TICKS}
          interval={0}
          height={1}
          axisLine={false}
          tickLine={false}
          tickSize={0}
          tickMargin={16}
          tick={tickFont}
          allowDataOverflow
        />
        <XAxis xAxisId="xb" type="number" domain={[0, 1000]} ticks={X_TICKS} interval={0} height={1}
          mirror tickSize={12} tickFormatter={blank} axisLine={frame} tickLine={frame} />
        <XAxis xAxisId="xt" orientation="top" type="number" domain={[0, 1000]} ticks={X_TICKS} interval={0} height={1}
          mirror tickSize={12} tickFormatter={blank} axisLine={frame} tickLine={frame} />
        <YAxis
          type="number"
          domain={yDomain}
          ticks={yTicks}
          interval={0}
          width={1}
          axisLine={false}
          tickLine={false}
          tickSize={0}
          tickMargin={20}
          tick={tickFont}
          allowDataOverflow
        />
        <YAxis yAxisId="yl" type="number" domain={yDomain} ticks={yTicks} interval={0} width={1}
          mirror tickSize={12} tickFormatter={blank} axisLine={frame} tickLine={frame} />
        <YAxis yAxisId="yr" orientation="right" type="number" domain={yDomain} ticks={yTicks} interval={0} width={1}
          mirror tickSize={12} tickFormatter={blank} axisLine={frame} tickLine={frame} />
        {series.map((s) => (
          <Line
            key={s.key}
            data={s.data}
            dataKey="v"
            type="linear"
            stroke={s.lineColor ?? s.color}
            strokeWidth={s.lineWidth}
            strokeDasharray={s.dash}
            dot={makeDot(s.shape, s.size, s.color)}
            activeDot={false}
            isAnimationActive={false}
          />
        ))}
      </LineChart>
    </div>
  );
};

const seriesA: SeriesDef[] = [
  { key: 'blue', data: toRows(T10, aBlue), color: BLUE_A, shape: 'disc', size: 24, lineWidth: 18 },
  { key: 'red', data: toRows(T5, aRed), color: RED, shape: 'square', size: 22, lineWidth: 14 },
  { key: 'green', data: toRows(T10, aGreen), color: GREEN, shape: 'disc', size: 24, lineWidth: 18 },
];
const seriesB: SeriesDef[] = [
  { key: 'blue', data: merge(bBlue, bBlueMid), color: BLUE_RING, shape: 'ring', size: 17, lineWidth: 1.5, dash: '4 4' },
  { key: 'red', data: merge(bRed, bRedMid), color: RED, shape: 'square', size: 18, lineWidth: 1.5 },
  { key: 'green', data: merge(bGreen, bGreenMid), color: GREEN, lineColor: '#33dd33', shape: 'disc', size: 18, lineWidth: 1.5, dash: '6 3' },
];
const seriesC: SeriesDef[] = [
  { key: 'blue', data: merge(cBlue, cBlueMid), color: BLUE_RING, shape: 'ring', size: 16, lineWidth: 1.5, dash: '4 4' },
  { key: 'red', data: merge(cRed, cRedMid), color: RED, shape: 'square', size: 16, lineWidth: 1.5 },
  { key: 'green', data: merge(cGreen, cGreenMid), color: GREEN, lineColor: '#33dd33', shape: 'disc', size: 17, lineWidth: 1.5, dash: '6 3' },
];

const Labels: React.FC = () => (
  <svg width={3662} height={2633} style={{ position: 'absolute', left: 0, top: 0, pointerEvents: 'none' }}>
    <g fontFamily={FONT} fill="#111">
      <text x={52} y={158} fontSize={70} textAnchor="middle">S</text>
      <text x={1537} y={1287} fontSize={66} textAnchor="middle">t</text>
      <text x={293} y={275} fontSize={60}>(a)</text>

      <text x={1906} y={142} fontSize={70} textAnchor="middle">S</text>
      <text x={3380} y={1291} fontSize={66} textAnchor="middle">t</text>
      <text x={2116} y={550} fontSize={60}>(b)</text>

      <text x={991} y={1449} fontSize={70} textAnchor="middle">S</text>
      <text x={2438} y={2588} fontSize={66} textAnchor="middle">t</text>
      <text x={1268} y={1480} fontSize={60}>(c)</text>
    </g>
  </svg>
);

export default function App() {
  return (
    <div style={{ position: 'absolute', left: 0, top: 0, width: 3662, height: 2633, background: '#fff', overflow: 'hidden' }}>
      <Panel
        left={0}
        top={0}
        width={1820}
        height={1320}
        box={{ x0: 169, y0: 66, x1: 1756, y1: 1176 }}
        yDomain={[-3, 3]}
        yTicks={A_Y_TICKS}
        series={seriesA}
      />
      <Panel
        left={1830}
        top={0}
        width={1832}
        height={1320}
        box={{ x0: 2049, y0: 46, x1: 3597, y1: 1158 }}
        yDomain={[-2.5, 0.5]}
        yTicks={B_Y_TICKS}
        series={seriesB}
      />
      <Panel
        left={900}
        top={1320}
        width={1900}
        height={1313}
        box={{ x0: 1104, y0: 1351, x1: 2653, y1: 2464 }}
        yDomain={[-0.6, 0.6]}
        yTicks={C_Y_TICKS}
        series={seriesC}
      />
      <Labels />
    </div>
  );
}
